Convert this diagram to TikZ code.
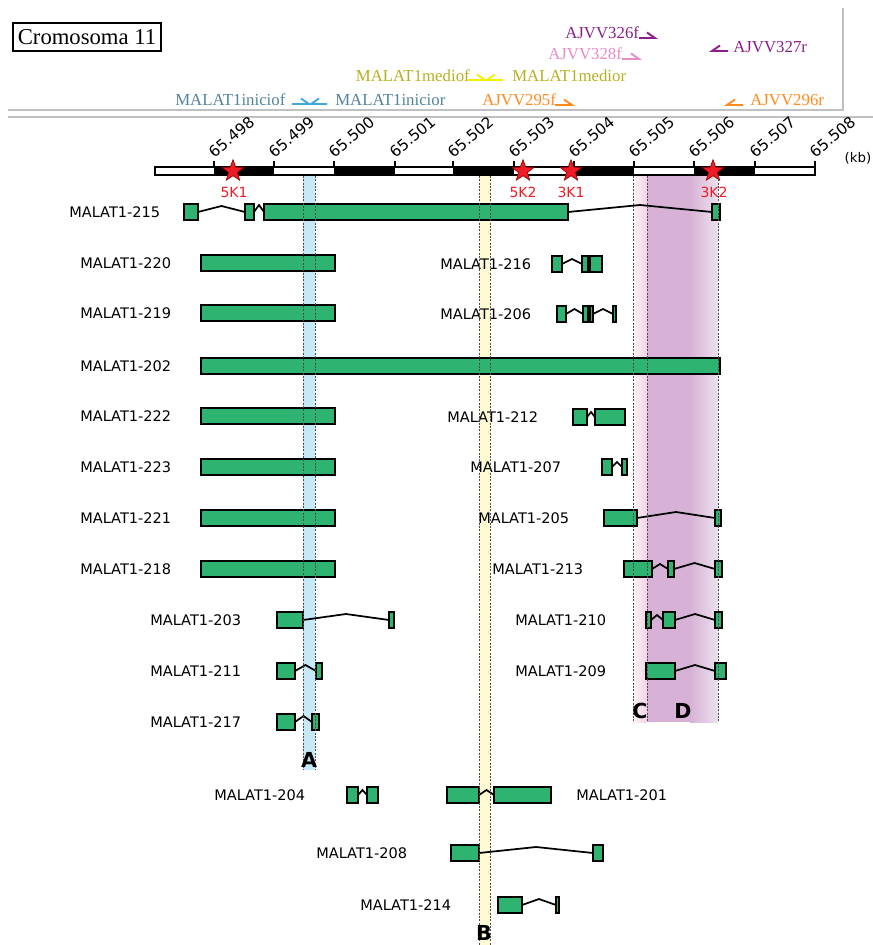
\documentclass[tikz,border=0pt]{standalone}
\usepackage{fontspec}
\usetikzlibrary{calc,shapes.geometric}
\newfontfamily\lblfont{DejaVu Sans}
\newfontfamily\serfont{Liberation Serif}
\definecolor{exgreen}{RGB}{46,179,112}
\definecolor{pprl}{RGB}{140,30,140}
\definecolor{pnk}{RGB}{232,140,200}
\definecolor{olv}{RGB}{184,176,32}
\definecolor{ylw}{RGB}{245,240,0}
\definecolor{bltxt}{RGB}{80,132,160}
\definecolor{blh}{RGB}{64,168,216}
\definecolor{orng}{RGB}{255,138,30}
\definecolor{starred}{RGB}{238,28,37}
\definecolor{bandA}{RGB}{198,233,248}
\definecolor{bandB}{RGB}{255,250,210}
\definecolor{bandCl}{RGB}{253,242,247}
\definecolor{bandCr}{RGB}{243,211,230}
\definecolor{bandD}{RGB}{216,178,214}
\definecolor{bandDr}{RGB}{236,225,238}
\definecolor{hdrgray}{RGB}{192,192,192}
\tikzset{
  exon/.style={draw=black, fill=exgreen, line width=1.4pt, inner sep=0pt, outer sep=0pt, minimum height=11.6pt},
  intron/.style={draw=black, line width=1.3pt},
  lbl/.style={font=\lblfont\fontsize{10.9}{13}\selectfont, anchor=west, inner sep=0pt},
  prim/.style={font=\serfont\fontsize{12.6}{14}\selectfont, anchor=west, inner sep=0pt},
  harp/.style={line width=1.4pt},
  tick/.style={font=\lblfont\fontsize{11.5}{13}\selectfont, rotate=40, anchor=south west, inner sep=0pt},
  bandline/.style={draw=black!70, line width=0.5pt, dash pattern=on 1.5pt off 1pt},
  bandlet/.style={font=\lblfont\bfseries\fontsize{15.5}{18}\selectfont, inner sep=0pt},
  starlbl/.style={font=\lblfont\fontsize{10.5}{12}\selectfont, text=starred, inner sep=0pt},
  mstar/.style={star, star points=5, star point ratio=2.4, fill=starred, draw=red!60!black, line width=0.5pt, inner sep=0pt, minimum size=17pt}
}
\newcommand{\exn}[4]{\node[exon, minimum width={(#3-#2)*0.75pt}] (#1) at ({(#2+#3)/2},#4) {};}
\newcommand{\intr}[3]{\draw[intron] (#1.east) -- ($(#1.east)!0.5!(#2.west)+(0,-#3)$) -- (#2.west);}
\newcommand{\fwdp}[4]{\draw[harp,#4] (#1,#3) -- (#2,#3) -- ({#2-8},{#3-5.5});}
\newcommand{\revp}[4]{\draw[harp,#4] (#2,#3) -- (#1,#3) -- ({#1+8},{#3-5.5});}
\begin{document}
\begin{tikzpicture}[x=0.75pt,y=-0.75pt]
\fill[white] (0,0) rectangle (873,945);
\useasboundingbox (0,0) rectangle (873,945);
% header frame
\draw[hdrgray, line width=0.8pt] (8,110) -- (843,110) -- (843,8);
\draw[hdrgray, line width=0.8pt] (8,117) -- (873,117);
\node[draw=black, line width=1.2pt, font=\serfont\fontsize{17}{20}\selectfont, minimum width=111pt, minimum height=21pt, inner sep=0pt] (chr) at (87,37) {Cromosoma 11};
% primers
\node[prim, text=pprl] (p326) at (565,33) {AJVV326f};
\fwdp{639}{655}{38}{pprl}
\node[prim, text=pnk] (p328) at (548,54) {AJVV328f};
\fwdp{622}{639}{59}{pnk}
\revp{712}{728}{51}{pprl}
\node[prim, text=pprl] (p327) at (733,47) {AJVV327r};
\node[prim, text=olv, anchor=east] (pmf) at (470,76) {MALAT1mediof};
\fwdp{468}{485}{80}{ylw}
\revp{487}{503}{80}{ylw}
\node[prim, text=olv] (pmr) at (512,76) {MALAT1medior};
\node[prim, text=bltxt] (pif) at (175,100) {MALAT1iniciof};
\fwdp{292}{309}{104}{blh}
\revp{311}{327}{104}{blh}
\node[prim, text=bltxt] (pir) at (335,100) {MALAT1inicior};
\node[prim, text=orng] (p295) at (482,100) {AJVV295f};
\fwdp{555}{572}{105}{orng}
\revp{727}{743}{105}{orng}
\node[prim, text=orng] (p296) at (750,100) {AJVV296r};
% bands
\fill[bandA] (303,176) rectangle (315,770);
\fill[bandB] (479,176) rectangle (490,945);
\shade[left color=bandCl, right color=bandCr] (633,176) rectangle (647,722);
\fill[bandD] (647,176) rectangle (690,722);
\shade[left color=bandD, right color=bandDr] (690,176) rectangle (718,722);
% ruler
\draw[black, line width=1pt, fill=white] (155,167) rectangle (815,175);
\foreach \a/\b in {214/274,334/395,453/514,574/634,694/755} {\fill[black] (\a,166.5) rectangle (\b,175.5);}
\foreach \x/\t in {214/65.498,274/65.499,334/65.500,395/65.501,453/65.502,514/65.503,574/65.504,634/65.505,694/65.506,755/65.507,815/65.508} {
  \draw[black, line width=1pt] (\x,161) -- (\x,167);
  \node[tick] at ({\x+0.5},159) {\t};
}
\node[font=\lblfont\fontsize{10}{12}\selectfont, inner sep=0pt] (kb) at (858,158) {(kb)};
\node[mstar] (s5k1) at (233,171) {};
\node[mstar] (s5k2) at (523,171) {};
\node[mstar] (s3k1) at (571,171) {};
\node[mstar] (s3k2) at (713,171) {};
\node[starlbl] at (234,192) {5K1};
\node[starlbl] at (523,192) {5K2};
\node[starlbl] at (571,192) {3K1};
\node[starlbl] at (714,192) {3K2};
% transcripts left column
\node[lbl] (l215) at (69,212) {MALAT1-215};
\exn{a1}{184}{198}{212}\exn{a2}{245}{254}{212}\exn{a3}{264}{568}{212}\exn{a4}{712}{720}{212}
\intr{a1}{a2}{6}\intr{a2}{a3}{7}\intr{a3}{a4}{7}
\node[lbl] (l220) at (80,263) {MALAT1-220};\exn{b1}{201}{335}{263}
\node[lbl] (l219) at (80,313) {MALAT1-219};\exn{c1}{201}{335}{313}
\node[lbl] (l202) at (80,366) {MALAT1-202};\exn{d1}{201}{720}{366}
\node[lbl] (l222) at (80,416) {MALAT1-222};\exn{e1}{201}{335}{416}
\node[lbl] (l223) at (80,467) {MALAT1-223};\exn{f1}{201}{335}{467}
\node[lbl] (l221) at (80,518) {MALAT1-221};\exn{g1}{201}{335}{518}
\node[lbl] (l218) at (80,569) {MALAT1-218};\exn{h1}{201}{335}{569}
\node[lbl] (l203) at (150,620) {MALAT1-203};
\exn{i1}{277}{303}{620}\exn{i2}{389}{394}{620}\intr{i1}{i2}{6}
\node[lbl] (l211) at (150,671) {MALAT1-211};
\exn{j1}{277}{295}{671}\exn{j2}{316}{322}{671}\intr{j1}{j2}{6}
\node[lbl] (l217) at (150,722) {MALAT1-217};
\exn{k1}{277}{295}{722}\exn{k2}{312}{319}{722}\intr{k1}{k2}{6}
% right column
\node[lbl] (l216) at (440,264) {MALAT1-216};
\exn{m1}{552}{562}{264}\exn{m2}{582}{588}{264}\exn{m3}{590}{602}{264}\intr{m1}{m2}{5}
\node[lbl] (l206) at (440,314) {MALAT1-206};
\exn{n1}{557}{566}{314}\exn{n2}{583}{588}{314}\exn{n3}{590}{593}{314}\exn{n4}{613}{616}{314}
\intr{n1}{n2}{5}\intr{n3}{n4}{5}
\node[lbl] (l212) at (447,417) {MALAT1-212};
\exn{o1}{573}{587}{417}\exn{o2}{595}{625}{417}\intr{o1}{o2}{5}
\node[lbl] (l207) at (470,467) {MALAT1-207};
\exn{q1}{602}{612}{467}\exn{q2}{622}{627}{467}\intr{q1}{q2}{5}
\node[lbl] (l205) at (478,518) {MALAT1-205};
\exn{r1}{604}{637}{518}\exn{r2}{715}{721}{518}\intr{r1}{r2}{6}
\node[lbl] (l213) at (492,569) {MALAT1-213};
\exn{t1}{624}{652}{569}\exn{t2}{668}{674}{569}\exn{t3}{715}{722}{569}\intr{t1}{t2}{5}\intr{t2}{t3}{6}
\node[lbl] (l210) at (515,620) {MALAT1-210};
\exn{u1}{646}{651}{620}\exn{u2}{663}{675}{620}\exn{u3}{715}{722}{620}\intr{u1}{u2}{5}\intr{u2}{u3}{6}
\node[lbl] (l209) at (515,671) {MALAT1-209};
\exn{v1}{646}{675}{671}\exn{v2}{715}{726}{671}\intr{v1}{v2}{6}
% bottom
\node[lbl] (l204) at (214,795) {MALAT1-204};
\exn{w1}{347}{358}{795}\exn{w2}{367}{378}{795}\intr{w1}{w2}{5}
\exn{x1}{447}{479}{795}\exn{x2}{494}{551}{795}\intr{x1}{x2}{5}
\node[lbl] (l201) at (576,795) {MALAT1-201};
\node[lbl] (l208) at (316,853) {MALAT1-208};
\exn{y1}{451}{479}{853}\exn{y2}{593}{603}{853}\intr{y1}{y2}{6}
\node[lbl] (l214) at (360,905) {MALAT1-214};
\exn{z1}{498}{522}{905}\exn{z2}{556}{559}{905}\intr{z1}{z2}{6}
% band dashed lines
\foreach \x/\yb in {303/770,315/770,479/945,490/945,633/722,647/722,718/722} {\draw[bandline] (\x,176) -- (\x,\yb);}
\node[bandlet] (A) at (309,760) {A};
\node[bandlet] (B) at (484,933) {B};
\node[bandlet] (C) at (640,711) {C};
\node[bandlet] (D) at (683,711) {D};
\end{tikzpicture}
\end{document}
